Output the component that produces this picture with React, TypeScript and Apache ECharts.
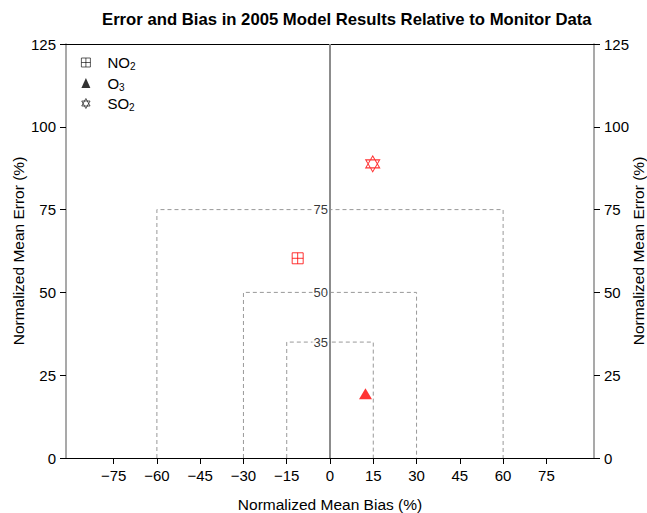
import React, { useEffect, useRef } from "react";
import * as echarts from "echarts";

const seriesNames = ["NO2", "O3", "SO2"];
const no2Data = [[-11.2, 60.3]];
const o3Data = [[12.3, 19.4]];
const so2Data = [[14.8, 88.8]];
const xTicks = [-75, -60, -45, -30, -15, 0, 15, 30, 45, 60, 75];
const boxes = [
  { half: 60, top: 75 },
  { half: 30, top: 50 },
  { half: 15, top: 35 },
];
const yName = "Normalized Mean Error (%)";

const FONT = "Liberation Sans, Arial, Helvetica, sans-serif";
const SQ = "path://M0,0 L10,0 L10,10 L0,10 Z M5,0 L5,10 M0,5 L10,5";
const HEX = "path://M5,0 L10,9 L0,9 Z M0,3 L10,3 L5,12 Z";

export default function App() {
  const ref = useRef<HTMLDivElement>(null);
  useEffect(() => {
    document.body.style.margin = "0";
    const chart = echarts.init(ref.current!, null, { renderer: "svg" });
    const yAxisBase = {
      type: "value",
      min: 0,
      max: 125,
      interval: 25,
      axisLine: { show: true, onZero: false, lineStyle: { color: "#8c8c8c", width: 1.5 } },
      axisTick: { show: true, length: 6, lineStyle: { color: "#000" } },
      axisLabel: { fontSize: 15, color: "#000", fontFamily: FONT, margin: 10 },
      splitLine: { show: false },
    };
    const boxSeries = boxes.map((b) => ({
      type: "line",
      data: [
        [-b.half, 0],
        [-b.half, b.top],
        [b.half, b.top],
        [b.half, 0],
      ],
      symbol: "none",
      silent: true,
      lineStyle: { color: "#999", width: 1, type: [4, 3] },
      z: 1,
    }));
    const boxLabels = {
      type: "scatter",
      data: boxes.map((b) => [0, b.top]),
      symbolSize: 0,
      silent: true,
      z: 3,
      label: {
        show: true,
        position: "left",
        distance: 1,
        formatter: (p: any) => String(p.value[1]),
        fontSize: 13,
        color: "#000",
        fontFamily: FONT,
        backgroundColor: "#fff",
        padding: [0, 1],
      },
    };
    const legendFmt = (n: string) => n.replace(/(\d)/, "{sub|$1}");
    const nameText = (x: number) => ({
      type: "text",
      x,
      y: 251,
      rotation: Math.PI / 2,
      style: {
        text: yName,
        fontSize: 15.5,
        fontFamily: FONT,
        fill: "#000",
        textAlign: "center",
        textVerticalAlign: "middle",
      },
    });
    chart.setOption({
      animation: false,
      title: {
        text: "Error and Bias in 2005 Model Results Relative to Monitor Data",
        left: 97,
        top: 6,
        textStyle: { fontSize: 16.7, fontWeight: "bold", color: "#000", fontFamily: FONT },
      },
      graphic: [nameText(18), nameText(638)],
      legend: {
        orient: "vertical",
        left: 76,
        top: 50,
        itemWidth: 9,
        itemHeight: 10,
        itemGap: 4,
        formatter: legendFmt,
        textStyle: {
          fontSize: 15,
          color: "#000",
          fontFamily: FONT,
          padding: [0, 0, 0, 12],
          rich: {
            sub: { fontSize: 10, fontFamily: FONT, color: "#000", verticalAlign: "bottom", padding: [8, 0, 0, 0] },
          },
        },
        data: [
          { name: "NO2", icon: SQ, itemStyle: { color: "rgba(0,0,0,0)", borderColor: "#000", borderWidth: 0.8 } },
          { name: "O3", icon: "triangle", itemStyle: { color: "#000", borderWidth: 0 } },
          { name: "SO2", icon: HEX, itemStyle: { color: "rgba(0,0,0,0)", borderColor: "#000", borderWidth: 0.8 } },
        ],
      },
      grid: { left: 66, right: 53, top: 44, bottom: 55, containLabel: false, outerBoundsMode: "none" },
      xAxis: [
        {
          type: "value",
          min: -91.5,
          max: 91.5,
          position: "bottom",
          name: "Normalized Mean Bias (%)",
          nameLocation: "middle",
          nameGap: 38,
          nameTextStyle: { fontSize: 15.5, color: "#000", fontFamily: FONT },
          axisLine: { show: true, onZero: false, lineStyle: { color: "#000", width: 1 } },
          axisTick: { show: true, length: 6, customValues: xTicks, lineStyle: { color: "#000" } },
          axisLabel: {
            fontSize: 15,
            color: "#000",
            fontFamily: FONT,
            margin: 10,
            customValues: xTicks,
            formatter: (v: number) => (v < 0 ? "\u2212" + Math.abs(v) : String(v)),
          },
          splitLine: { show: false },
        },
        {
          type: "value",
          min: -91.5,
          max: 91.5,
          position: "top",
          axisLine: { show: true, onZero: false, lineStyle: { color: "#000", width: 1 } },
          axisTick: { show: false },
          axisLabel: { show: false },
          splitLine: { show: false },
        },
      ],
      yAxis: [
        { ...yAxisBase, position: "left" },
        { ...yAxisBase, position: "right" },
      ],
      series: [
        ...boxSeries,
        {
          type: "line",
          data: [],
          silent: true,
          markLine: {
            silent: true,
            symbol: "none",
            label: { show: false },
            lineStyle: { color: "#8c8c8c", width: 2, type: "solid" },
            data: [{ xAxis: 0 }],
          },
        },
        boxLabels,
        {
          name: seriesNames[0],
          type: "scatter",
          data: no2Data,
          symbol: SQ,
          symbolSize: 11,
          itemStyle: { color: "rgba(0,0,0,0)", borderColor: "#ff0000", borderWidth: 1 },
          z: 5,
        },
        {
          name: seriesNames[1],
          type: "scatter",
          data: o3Data,
          symbol: "triangle",
          symbolSize: [13, 11],
          itemStyle: { color: "#ff0000" },
          z: 5,
        },
        {
          name: seriesNames[2],
          type: "scatter",
          data: so2Data,
          symbol: HEX,
          symbolSize: [14, 16],
          itemStyle: { color: "rgba(0,0,0,0)", borderColor: "#ff0000", borderWidth: 1 },
          z: 5,
        },
      ],
    });
    return () => chart.dispose();
  }, []);
  return <div ref={ref} style={{ width: 647, height: 513 }} />;
}
